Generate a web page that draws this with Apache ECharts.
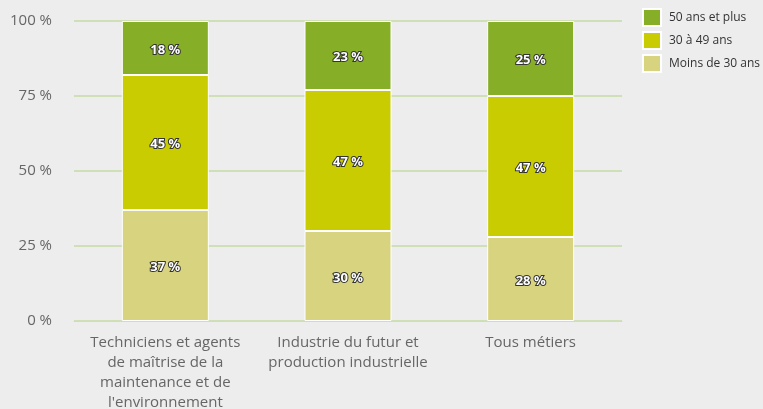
<!DOCTYPE html>
<html>
<head>
<meta charset="utf-8">
<script src="https://cdn.jsdelivr.net/npm/echarts@6/dist/echarts.min.js"></script>
<style>
html,body{margin:0;padding:0;background:#ededee;}
#c{width:763px;height:409px;}
</style>
</head>
<body>
<div id="c"></div>
<script>
var categories = [
  "Techniciens et agents\nde maîtrise de la\nmaintenance et de\nl'environnement",
  "Industrie du futur et\nproduction industrielle",
  "Tous métiers"
];
var seriesNames = ["Moins de 30 ans", "30 à 49 ans", "50 ans et plus"];
var moins30 = [37, 30, 28];
var de30a49 = [45, 47, 47];
var plus50 = [18, 23, 25];
var yTicks = [0, 25, 50, 75, 100];

var colors = ["#d8d37e", "#c8cc00", "#86ae26"];
var values = [moins30, de30a49, plus50];

var chart = echarts.init(document.getElementById('c'));
var series = seriesNames.map(function(n, i){
  return {
    name: n,
    type: 'bar',
    stack: 'total',
    barWidth: 87,
    data: values[i],
    itemStyle: {color: colors[i], borderColor: '#ffffff', borderWidth: 1},
    label: {
      show: true,
      position: 'inside',
      offset: [0, 2],
      formatter: '{c} %',
      color: '#ffffff',
      fontWeight: 'bold',
      fontSize: 13,
      fontFamily: 'Open Sans',
      textBorderColor: '#333',
      textBorderWidth: 2
    }
  };
});
chart.setOption({
  backgroundColor: '#ededee',
  animation: false,
  grid: {left: 74, right: 141, top: 21, bottom: 88, outerBoundsMode: 'none', containLabel: false},
  legend: {
    orient: 'vertical',
    left: 637, top: 3,
    icon: 'rect',
    itemWidth: 18, itemHeight: 17, itemGap: 4,
    data: seriesNames.slice().reverse(),
    textStyle: {color: '#333', fontSize: 12, fontFamily: 'Open Sans', padding: [0, 0, 0, 3]}
  },
  xAxis: {
    type: 'category',
    data: categories,
    axisTick: {show: false},
    axisLine: {lineStyle: {color: '#ccd6eb', width: 1}},
    axisLabel: {color: '#666', fontSize: 15, fontFamily: 'Open Sans', lineHeight: 20, margin: 12, interval: 0}
  },
  yAxis: {
    type: 'value',
    min: yTicks[0], max: yTicks[yTicks.length-1], interval: 25,
    axisLabel: {formatter: '{value} %', color: '#666', fontSize: 15, fontFamily: 'Open Sans', margin: 22},
    axisLine: {show: false},
    axisTick: {show: false},
    splitLine: {lineStyle: {color: '#cfe0b6', width: 2}}
  },
  series: series
});
</script>
</body>
</html>
